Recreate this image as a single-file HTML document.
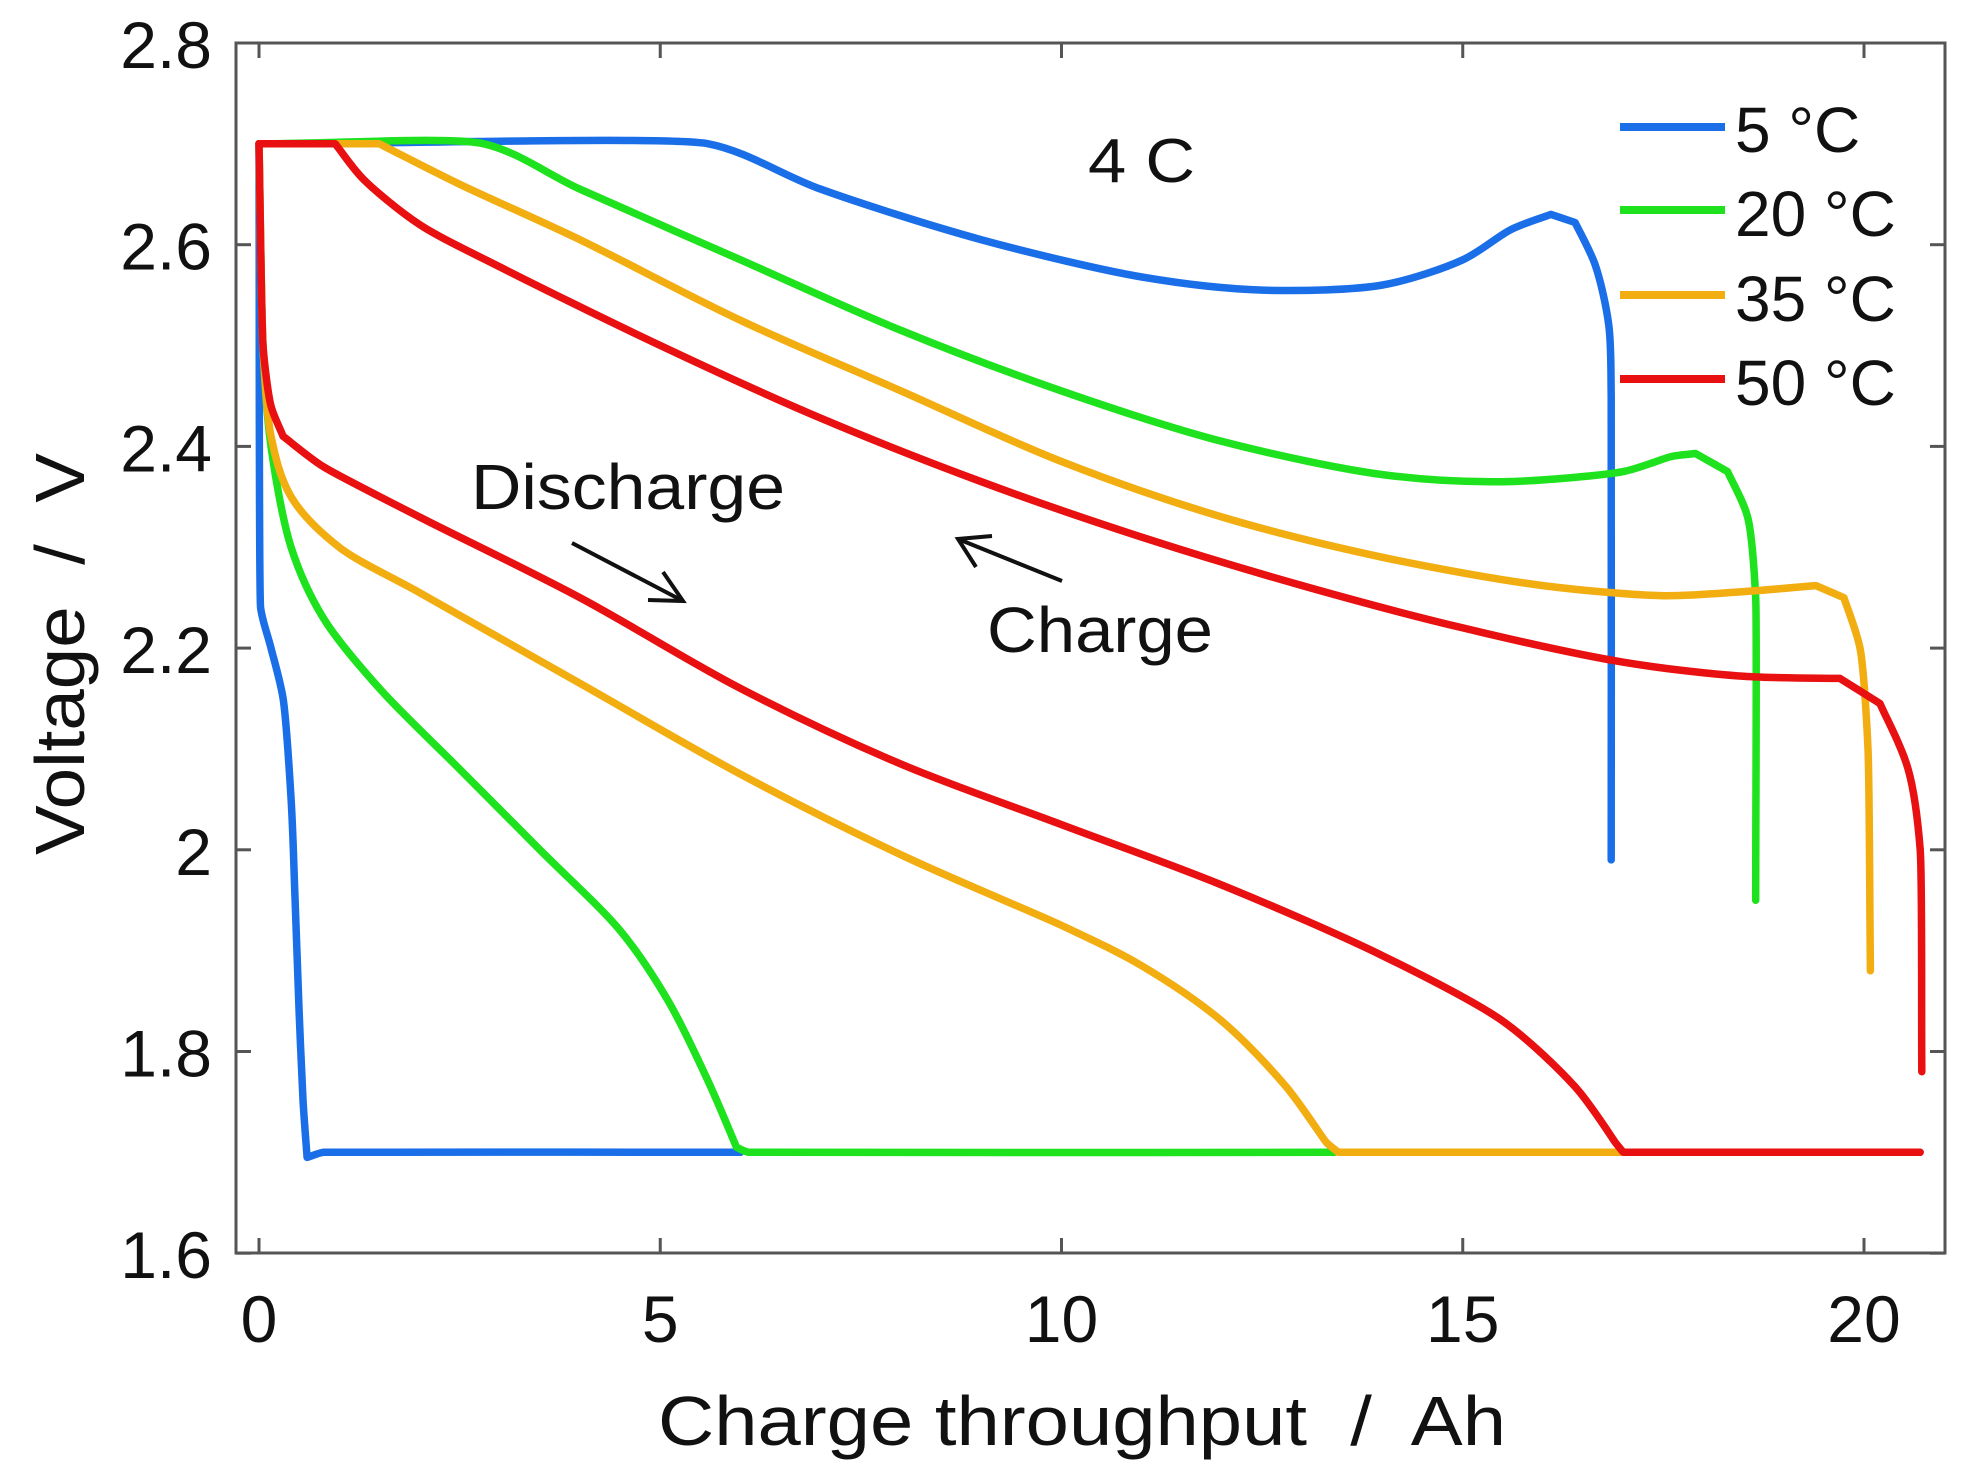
<!DOCTYPE html>
<html><head><meta charset="utf-8"><style>
html,body{margin:0;padding:0;background:#fff}
svg{display:block}
text{font-family:"Liberation Sans",sans-serif;fill:#111;white-space:pre}
</style></head><body>
<svg id="s" width="1971" height="1481" viewBox="0 0 1971 1481" xmlns="http://www.w3.org/2000/svg" xml:space="preserve">
<rect width="1971" height="1481" fill="#fff"/>
<g id="ax"></g>
<g id="cv" fill="none" stroke-width="7.5" stroke-linejoin="round" stroke-linecap="round"></g>
<text x="1088" y="182" font-size="62" textLength="107" lengthAdjust="spacingAndGlyphs">4 C</text>
<text x="471" y="509" font-size="64" textLength="314" lengthAdjust="spacingAndGlyphs">Discharge</text>
<text x="987" y="652" font-size="64" textLength="226" lengthAdjust="spacingAndGlyphs">Charge</text>
<line x1="572" y1="543" x2="683" y2="601" stroke="#111" stroke-width="4"/>
<polyline points="648,600 683,601 663,572" fill="none" stroke="#111" stroke-width="4"/>
<line x1="1062" y1="581" x2="958" y2="539" stroke="#111" stroke-width="4"/>
<polyline points="992,536 958,539 976,567" fill="none" stroke="#111" stroke-width="4"/>
<g stroke-width="8">
<line x1="1620" y1="127" x2="1725" y2="127" stroke="#1a6fe8"/>
<line x1="1620" y1="210" x2="1725" y2="210" stroke="#1de21d"/>
<line x1="1620" y1="295" x2="1725" y2="295" stroke="#f2ad10"/>
<line x1="1620" y1="379" x2="1725" y2="379" stroke="#e81010"/>
</g>
<g font-size="64">
<text x="1735" y="152">5 °C</text>
<text x="1735" y="236">20 °C</text>
<text x="1735" y="321">35 °C</text>
<text x="1735" y="405">50 °C</text>
</g>
<text x="658" y="1445" font-size="70" textLength="848" lengthAdjust="spacingAndGlyphs">Charge throughput  /  Ah</text>
<text transform="translate(84,855) rotate(-90)" font-size="70" textLength="402" lengthAdjust="spacingAndGlyphs">Voltage  /  V</text>
</svg>
<script>
var X=function(a){return 259+a*80.25},Y=function(v){return 43+(2.8-v)/0.2*201.7};
var ax=document.getElementById('ax'),h='';
var L=236,R=1945,T=43,B=1253;
h+='<rect x="'+L+'" y="'+T+'" width="'+(R-L)+'" height="'+(B-T)+'" fill="none" stroke="#555" stroke-width="3"/>';
for(var i=0;i<=20;i+=5){var x=X(i);h+='<line x1="'+x+'" y1="'+B+'" x2="'+x+'" y2="'+(B-15)+'" stroke="#555" stroke-width="3"/><line x1="'+x+'" y1="'+T+'" x2="'+x+'" y2="'+(T+15)+'" stroke="#555" stroke-width="3"/>';
h+='<text x="'+x+'" y="1342" font-size="66" text-anchor="middle">'+i+'</text>';}
var yl=['1.6','1.8','2','2.2','2.4','2.6','2.8'];
for(var j=0;j<7;j++){var v=1.6+j*0.2,y=Y(v);h+='<line x1="'+L+'" y1="'+y+'" x2="'+(L+15)+'" y2="'+y+'" stroke="#555" stroke-width="3"/><line x1="'+R+'" y1="'+y+'" x2="'+(R-15)+'" y2="'+y+'" stroke="#555" stroke-width="3"/>';
h+='<text x="212" y="'+(y+25)+'" font-size="66" text-anchor="end">'+yl[j]+'</text>';}
ax.innerHTML=h;
var S={
'#1a6fe8':[[[0,2.7],[0.02,2.24],[0.15,2.2],[0.3,2.15],[0.4,2.05],[0.45,1.95],[0.5,1.84],[0.55,1.75],[0.6,1.695],[0.8,1.7],[6,1.7]],
[[0,2.7],[5.6,2.7],[7,2.655],[9,2.605],[11,2.568],[12.5,2.555],[14,2.56],[15,2.585],[15.6,2.615],[16.1,2.63],[16.4,2.622],[16.65,2.58],[16.82,2.52],[16.85,2.45],[16.85,1.99]]],
'#1de21d':[[[0,2.7],[0.05,2.5],[0.15,2.4],[0.4,2.3],[0.8,2.23],[1.5,2.16],[2.5,2.08],[3.5,2.0],[4.5,1.92],[5.1,1.85],[5.6,1.77],[5.95,1.705],[6.1,1.7],[13.4,1.7]],
[[0,2.7],[2.8,2.7],[4,2.655],[6,2.585],[8,2.515],[10,2.455],[12,2.405],[14,2.372],[15.5,2.365],[17,2.375],[17.6,2.39],[17.9,2.393],[18.3,2.375],[18.55,2.33],[18.65,2.25],[18.65,1.95]]],
'#f2ad10':[[[0,2.7],[0.05,2.5],[0.15,2.41],[0.4,2.35],[1,2.3],[2,2.255],[4,2.165],[6,2.075],[8,1.995],[10,1.925],[11,1.885],[12,1.83],[12.8,1.765],[13.3,1.71],[13.45,1.7],[17,1.7]],
[[0,2.7],[1.5,2.7],[2.5,2.66],[4,2.605],[6,2.525],[8,2.455],[10,2.385],[12,2.33],[14,2.29],[16,2.262],[17.5,2.252],[18.5,2.256],[19.4,2.262],[19.75,2.25],[19.95,2.2],[20.05,2.1],[20.08,1.88]]],
'#e81010':[[[0,2.7],[0.05,2.5],[0.15,2.44],[0.3,2.41],[0.8,2.38],[2,2.33],[4,2.25],[6,2.16],[8,2.085],[10,2.025],[12,1.965],[14,1.895],[15.5,1.83],[16.4,1.765],[16.9,1.71],[17,1.7],[20.7,1.7]],
[[0,2.7],[0.95,2.7],[1.3,2.665],[2,2.62],[3,2.578],[5,2.5],[7,2.428],[9,2.365],[11,2.31],[13,2.262],[15,2.22],[17,2.186],[18.5,2.172],[19.7,2.17],[20.2,2.145],[20.55,2.08],[20.7,2.0],[20.72,1.78]]]
};
function dir(a,b){var dx=b[0]-a[0],dy=b[1]-a[1],l=Math.hypot(dx,dy)||1;return [dx/l,dy/l];}
function len(a,b){return Math.hypot(b[0]-a[0],b[1]-a[1]);}
function path(p){
 var P=p.map(function(q){return [X(q[0]),Y(q[1])]}),n=P.length,Tn=[];
 for(var i=0;i<n;i++){
  if(i==0||i==n-1){Tn.push(null);continue;}
  var a=dir(P[i-1],P[i]),b=dir(P[i],P[i+1]);
  var dot=a[0]*b[0]+a[1]*b[1];
  if(dot<0.9)Tn.push(null);else{var s=[a[0]+b[0],a[1]+b[1]],l=Math.hypot(s[0],s[1]);Tn.push([s[0]/l,s[1]/l]);}
 }
 var d='M'+P[0][0].toFixed(1)+','+P[0][1].toFixed(1);
 for(var i=0;i<n-1;i++){
  var p1=P[i],p2=P[i+1],sl=len(p1,p2);
  var L1=0.33*Math.min(sl,i>0?len(P[i-1],p1):sl);
  var L2=0.33*Math.min(sl,i+2<n?len(p2,P[i+2]):sl);
  var t1=Tn[i]||dir(p1,p2),t2=Tn[i+1]||dir(p1,p2);
  var c1=[p1[0]+t1[0]*L1,p1[1]+t1[1]*L1],c2=[p2[0]-t2[0]*L2,p2[1]-t2[1]*L2];
  d+=' C'+c1[0].toFixed(1)+','+c1[1].toFixed(1)+' '+c2[0].toFixed(1)+','+c2[1].toFixed(1)+' '+p2[0].toFixed(1)+','+p2[1].toFixed(1);
 }
 return d;
}
var cv=document.getElementById('cv'),g='';
for(var c in S){S[c].forEach(function(p){g+='<path stroke="'+c+'" d="'+path(p)+'"/>';});}
cv.innerHTML=g;
</script>
</body></html>
